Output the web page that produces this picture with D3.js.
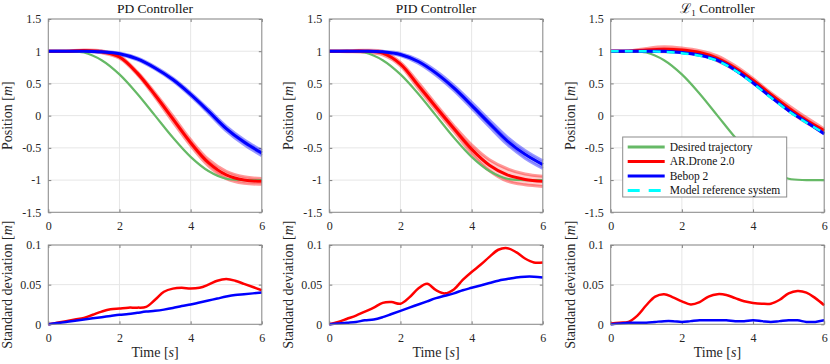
<!DOCTYPE html>
<html>
<head>
<meta charset="utf-8">
<script src="https://cdn.jsdelivr.net/npm/d3@7"></script>
<style>
  body { margin: 0; background: #fff; }
  svg, svg text { font-family: "Liberation Serif", "DejaVu Serif", serif; }
  .tick text { fill: #262626; font-size: 12px; }
  .tick line { stroke: #7f7f7f; }
  .domain { stroke: none; }
  .gridLine { stroke: #e6e6e6; stroke-width: 1; }
  .boxRect { fill: none; stroke: #8c8c8c; stroke-width: 1; }
  .title { font-size: 13.5px; fill: #111; text-anchor: middle; }
  .axisLabel { font-size: 14px; fill: #262626; text-anchor: middle; }
  .legendText { font-size: 11.5px; fill: #111; }
</style>
</head>
<body>
<svg id="chart" width="830" height="364"></svg>
<script>
const serif = '"Liberation Serif", "DejaVu Serif", serif'

// time grids
const tMean = [0, 0.5, 1, 1.5, 2, 2.5, 3, 3.5, 4, 4.5, 5, 5.5, 6]
const tStd = [0, 0.25, 0.5, 0.75, 1, 1.25, 1.5, 1.75, 2, 2.25, 2.5, 2.75, 3,
    3.25, 3.5, 3.75, 4, 4.25, 4.5, 4.75, 5, 5.25, 5.5, 5.75, 6]

// desired trajectory (same in all three)
const desired = [1, 1, 0.98, 0.86, 0.64, 0.34, 0, -0.34, -0.64, -0.86, -0.98, -1, -1]

// mean positions
const pdDrone = [1, 1, 1.01, 0.99, 0.91, 0.66, 0.32, -0.05, -0.42, -0.73, -0.92, -1.0, -1.02]
const pdBebop = [1, 1, 1, 0.99, 0.96, 0.88, 0.74, 0.56, 0.33, 0.07, -0.2, -0.41, -0.58]
const pidDrone = [1, 1, 1, 0.97, 0.8, 0.47, 0.13, -0.2, -0.52, -0.77, -0.92, -0.99, -1.02]
const pidBebop = [1, 1, 1, 0.99, 0.95, 0.84, 0.66, 0.43, 0.16, -0.12, -0.39, -0.6, -0.76]
const l1Drone = [1, 1, 1.02, 1.03, 1.02, 0.98, 0.89, 0.74, 0.55, 0.33, 0.12, -0.07, -0.23]
const l1Bebop = [1, 1, 1, 1.0, 0.98, 0.94, 0.86, 0.71, 0.51, 0.29, 0.08, -0.1, -0.28]
const l1Model = [1, 1, 1, 0.99, 0.97, 0.93, 0.85, 0.7, 0.5, 0.28, 0.07, -0.11, -0.27]

// standard deviations
const pdDroneStd = [0, 0.002, 0.004, 0.006, 0.008, 0.012, 0.016, 0.019, 0.020, 0.021, 0.021, 0.022,
    0.031, 0.041, 0.045, 0.046, 0.045, 0.046, 0.050, 0.055, 0.057, 0.055, 0.051, 0.047, 0.043]
const pdBebopStd = [0, 0.0015, 0.003, 0.0045, 0.006, 0.0075, 0.009, 0.0105, 0.012, 0.013, 0.0145, 0.016,
    0.017, 0.0185, 0.0205, 0.023, 0.025, 0.0275, 0.030, 0.0325, 0.035, 0.037, 0.038, 0.039, 0.040]
const pidDroneStd = [0, 0.003, 0.007, 0.011, 0.016, 0.021, 0.027, 0.028, 0.026, 0.034, 0.045, 0.051,
    0.043, 0.039, 0.044, 0.056, 0.066, 0.075, 0.085, 0.094, 0.096, 0.091, 0.083, 0.078, 0.078]
const pidBebopStd = [0, 0.001, 0.002, 0.003, 0.005, 0.006, 0.009, 0.013, 0.017, 0.021, 0.025, 0.029,
    0.033, 0.036, 0.039, 0.043, 0.046, 0.049, 0.052, 0.055, 0.057, 0.059, 0.060, 0.060, 0.059]
const l1DroneStd = [0.001, 0.002, 0.003, 0.011, 0.024, 0.035, 0.038, 0.034, 0.029, 0.025, 0.028, 0.035,
    0.038, 0.037, 0.033, 0.029, 0.027, 0.026, 0.026, 0.031, 0.039, 0.042, 0.040, 0.033, 0.024]
const l1BebopStd = [0, 0.001, 0.002, 0.002, 0.002, 0.003, 0.004, 0.004, 0.003, 0.004, 0.005, 0.005,
    0.005, 0.005, 0.004, 0.004, 0.005, 0.004, 0.003, 0.004, 0.005, 0.005, 0.003, 0.003, 0.005]

const titles = ['PD Controller', 'PID Controller', 'L1 Controller']
const legendLabels = ['Desired trajectory', 'AR.Drone 2.0', 'Bebop 2', 'Model reference system']
const posTicks = [-1.5, -1, -0.5, 0, 0.5, 1, 1.5]
const stdTicks = [0, 0.05, 0.1]
const timeTicks = [0, 2, 4, 6]

const colors = {
    desired: '#66b966',
    drone: '#ff0000',
    bebop: '#0000ff',
    model: '#00ffff'
}

const panels = [
    { title: titles[0], drone: pdDrone, bebop: pdBebop, droneStd: pdDroneStd, bebopStd: pdBebopStd },
    { title: titles[1], drone: pidDrone, bebop: pidBebop, droneStd: pidDroneStd, bebopStd: pidBebopStd },
    { title: titles[2], drone: l1Drone, bebop: l1Bebop, model: l1Model, droneStd: l1DroneStd, bebopStd: l1BebopStd }
]

const style = {
    lefts: [48.3, 329.3, 610.7],
    w: 213.5,
    top: { y: 19, h: 193.3 },
    bot: { y: 245, h: 79.3 }
}

const svg = d3.select('#chart')

// std sampled at the mean times (tStd has twice the resolution)
function stdAtMean(std) {
    return tMean.map(t => std[tStd.indexOf(t)])
}

function fixAxisFont(sel) {
    sel.attr('font-family', serif).attr('font-size', 12)
}

function drawFrame(g, x, y, h, xTicks, yTicks) {
    g.append('g').selectAll(null).data(xTicks).enter().append('line')
        .classed('gridLine', true)
        .attr('x1', d => x(d)).attr('x2', d => x(d))
        .attr('y1', 0).attr('y2', h)
    g.append('g').selectAll(null).data(yTicks).enter().append('line')
        .classed('gridLine', true)
        .attr('x1', 0).attr('x2', style.w)
        .attr('y1', d => y(d)).attr('y2', d => y(d))

    g.append('g')
        .attr('transform', 'translate(0,' + h + ')')
        .call(d3.axisBottom(x).tickValues(xTicks).tickSize(-3).tickPadding(9).tickFormat(d => String(d)))
        .call(fixAxisFont)
    g.append('g')
        .call(d3.axisTop(x).tickValues(xTicks).tickSize(-3).tickFormat(''))
    g.append('g')
        .call(d3.axisLeft(y).tickValues(yTicks).tickSize(-3).tickPadding(7).tickFormat(d => String(d)))
        .call(fixAxisFont)
    g.append('g')
        .attr('transform', 'translate(' + style.w + ',0)')
        .call(d3.axisRight(y).tickValues(yTicks).tickSize(-3).tickFormat(''))
}

function drawBand(g, x, y, mean, std, color) {
    let s = stdAtMean(std)
    let rows = tMean.map((t, i) => ({ t: t, lo: mean[i] - s[i], hi: mean[i] + s[i] }))
    let curve = d3.curveCatmullRom.alpha(0.5)

    g.append('path')
        .datum(rows)
        .attr('d', d3.area().curve(curve).x(d => x(d.t)).y0(d => y(d.lo)).y1(d => y(d.hi)))
        .attr('fill', color)
        .attr('fill-opacity', 0.2)

    for (let key of ['lo', 'hi']) {
        g.append('path')
            .datum(rows)
            .attr('d', d3.line().curve(curve).x(d => x(d.t)).y(d => y(d[key])))
            .attr('fill', 'none')
            .attr('stroke', color)
            .attr('stroke-opacity', 0.4)
            .attr('stroke-width', 3)
    }
}

function drawLine(g, x, y, ts, vals, color, width, dash) {
    let p = g.append('path')
        .datum(vals)
        .attr('d', d3.line().curve(d3.curveCatmullRom.alpha(0.5)).x((d, i) => x(ts[i])).y(d => y(d)))
        .attr('fill', 'none')
        .attr('stroke', color)
        .attr('stroke-width', width)
    if (dash) p.attr('stroke-dasharray', dash)
    return p
}

function drawTitle(g, title) {
    let t = g.append('text')
        .classed('title', true)
        .attr('x', style.w / 2)
        .attr('y', -6)
    if (title.startsWith('L1')) {
        t.append('tspan').text('\u2112').style('font-family', '"DejaVu Serif", serif')
        t.append('tspan').text('1').attr('dy', 3).style('font-size', '9px')
        t.append('tspan').text(' Controller').attr('dy', -3)
    } else {
        t.text(title)
    }
}

function drawYLabel(g, h, word) {
    let t = g.append('text')
        .classed('axisLabel', true)
        .attr('font-family', serif)
        .attr('transform', 'translate(-36,' + h / 2 + ') rotate(-90)')
    t.append('tspan').text(word + ' [')
    t.append('tspan').text('m').style('font-style', 'italic')
    t.append('tspan').text(']')
}

function drawLegend(g) {
    let lg = g.append('g').attr('transform', 'translate(12,118)')
    lg.append('rect')
        .attr('width', 164).attr('height', 60)
        .attr('fill', '#fff').attr('stroke', '#8c8c8c')

    let items = [
        { label: legendLabels[0], color: colors.desired, w: 3, dash: null },
        { label: legendLabels[1], color: colors.drone, w: 3, dash: null },
        { label: legendLabels[2], color: colors.bebop, w: 3, dash: null },
        { label: legendLabels[3], color: colors.model, w: 3, dash: '12,9' }
    ]
    let rows = lg.selectAll(null).data(items).enter().append('g')
        .attr('transform', (d, i) => 'translate(0,' + (10 + i * 14.5) + ')')
    rows.append('line')
        .attr('x1', 5).attr('x2', 42)
        .attr('stroke', d => d.color)
        .attr('stroke-width', d => d.w)
        .attr('stroke-dasharray', d => d.dash)
    rows.append('text')
        .classed('legendText', true)
        .attr('x', 47).attr('dy', '0.33em')
        .text(d => d.label)
}

panels.forEach((p, k) => {
    let x = d3.scaleLinear().domain([0, 6]).range([0, style.w])

    // position panel
    let yTop = d3.scaleLinear().domain([-1.5, 1.5]).range([style.top.h, 0])
    let gTop = svg.append('g')
        .attr('transform', 'translate(' + style.lefts[k] + ',' + style.top.y + ')')
    drawFrame(gTop, x, yTop, style.top.h, timeTicks, posTicks)

    let plotTop = gTop.append('g')
    drawBand(plotTop, x, yTop, p.drone, p.droneStd, colors.drone)
    drawBand(plotTop, x, yTop, p.bebop, p.bebopStd, colors.bebop)
    drawLine(plotTop, x, yTop, tMean, desired, colors.desired, 2.2)
    drawLine(plotTop, x, yTop, tMean, p.drone, colors.drone, 3)
    drawLine(plotTop, x, yTop, tMean, p.bebop, colors.bebop, 3)
    if (p.model) drawLine(plotTop, x, yTop, tMean, p.model, colors.model, 2.5, '8,6')

    gTop.append('rect').classed('boxRect', true)
        .attr('width', style.w).attr('height', style.top.h)
    drawTitle(gTop, p.title)
    drawYLabel(gTop, style.top.h, 'Position')
    if (p.model) drawLegend(gTop)

    // std panel
    let yBot = d3.scaleLinear().domain([0, 0.1]).range([style.bot.h, 0])
    let gBot = svg.append('g')
        .attr('transform', 'translate(' + style.lefts[k] + ',' + style.bot.y + ')')
    drawFrame(gBot, x, yBot, style.bot.h, timeTicks, stdTicks)

    let plotBot = gBot.append('g')
    drawLine(plotBot, x, yBot, tStd, p.droneStd, colors.drone, 2.5)
    drawLine(plotBot, x, yBot, tStd, p.bebopStd, colors.bebop, 2.5)

    gBot.append('rect').classed('boxRect', true)
        .attr('width', style.w).attr('height', style.bot.h)
    drawYLabel(gBot, style.bot.h, 'Standard deviation')

    let xl = gBot.append('text')
        .classed('axisLabel', true)
        .attr('font-family', serif)
        .attr('x', style.w / 2)
        .attr('y', style.bot.h + 33)
    xl.append('tspan').text('Time [')
    xl.append('tspan').text('s').style('font-style', 'italic')
    xl.append('tspan').text(']')
})
</script>
</body>
</html>
